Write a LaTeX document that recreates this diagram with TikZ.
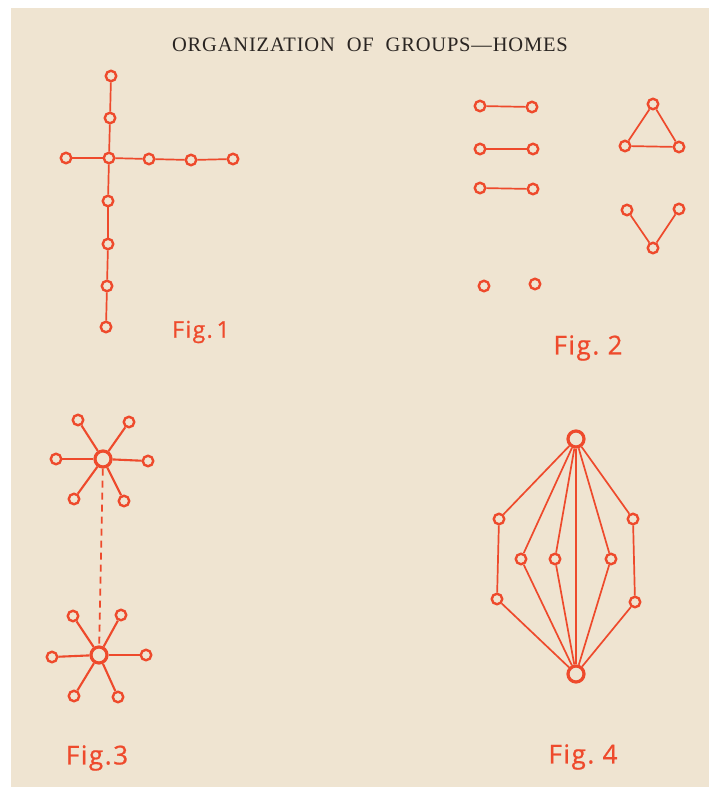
\documentclass[tikz,border=0pt]{standalone}
\usepackage{fontspec}
\setmainfont{Liberation Serif}
\newfontfamily\handfont[LetterSpace=6,FakeBold=0.8]{Open Sans}
\newfontfamily\titlefont[LetterSpace=4]{Liberation Serif}
\definecolor{paper}{HTML}{EFE4D1}
\definecolor{ink}{HTML}{EE4A2C}
\definecolor{titleink}{HTML}{2A2522}
\begin{document}
\begin{tikzpicture}[x=1pt,y=-1pt,
  dot/.style={circle,draw=ink,line width=2.4pt,inner sep=0pt,minimum size=10.5pt,fill=paper},
  hub/.style={circle,draw=ink,line width=3.2pt,inner sep=0pt,minimum size=16pt,fill=paper},
  link/.style={draw=ink,line width=1.7pt},
  dashlink/.style={draw=ink,line width=1.8pt,dash pattern=on 7pt off 5pt},
  figlabel/.style={text=ink,font=\handfont\fontsize{26}{26}\selectfont,inner sep=0pt}]
\useasboundingbox (0,0) rectangle (709,787);
\fill[white] (0,0) rectangle (709,787);
\fill[paper] (11,8) rectangle (709,787);

% title
\node[text=titleink,font=\titlefont\fontsize{20.5}{20.5}\selectfont,inner sep=0pt] (title) at (370,45)
  {ORGANIZATION\ \ OF\ \ GROUPS—HOMES};

% ---------- Fig. 1 ----------
\node[dot] (a1) at (111,76) {};
\node[dot] (a2) at (110,118) {};
\node[dot] (a3) at (109,158) {};
\node[dot] (a4) at (108,201) {};
\node[dot] (a5) at (108,244) {};
\node[dot] (a6) at (107,286) {};
\node[dot] (a7) at (106,327) {};
\node[dot] (h1) at (66,158) {};
\node[dot] (h2) at (149,159) {};
\node[dot] (h3) at (191,160) {};
\node[dot] (h4) at (233,159) {};
\draw[link] (a1)--(a2); \draw[link] (a2)--(a3); \draw[link] (a3)--(a4);
\draw[link] (a4)--(a5); \draw[link] (a5)--(a6); \draw[link] (a6)--(a7);
\draw[link] (h1)--(a3); \draw[link] (a3)--(h2); \draw[link] (h2)--(h3); \draw[link] (h3)--(h4);
\node[figlabel,font=\handfont\fontsize{23}{23}\selectfont] (f1) at (201,332) {Fig.\,1};

% ---------- Fig. 2 ----------
\node[dot] (p1) at (480,106) {};
\node[dot] (q1) at (532,107) {};
\node[dot] (p2) at (480,149) {};
\node[dot] (q2) at (533,149) {};
\node[dot] (p3) at (480,188) {};
\node[dot] (q3) at (533,189) {};
\node[dot] (p4) at (484,286) {};
\node[dot] (q4) at (535,284) {};
\draw[link] (p1)--(q1); \draw[link] (p2)--(q2); \draw[link] (p3)--(q3);
\node[dot] (t1) at (653,104) {};
\node[dot] (t2) at (625,146) {};
\node[dot] (t3) at (679,147) {};
\draw[link] (t1)--(t2); \draw[link] (t2)--(t3); \draw[link] (t3)--(t1);
\node[dot] (v1) at (627,210) {};
\node[dot] (v2) at (679,209) {};
\node[dot] (v3) at (653,248) {};
\draw[link] (v1)--(v3); \draw[link] (v3)--(v2);
\node[figlabel] (f2) at (588,348) {Fig.\ 2};

% ---------- Fig. 3 ----------
\node[hub] (s) at (103,459) {};
\node[dot] (s1) at (78,420) {};
\node[dot] (s2) at (129,422) {};
\node[dot] (s3) at (56,459) {};
\node[dot] (s4) at (148,461) {};
\node[dot] (s5) at (74,499) {};
\node[dot] (s6) at (124,501) {};
\foreach \k in {1,...,6} {\draw[link,line width=2.1pt] (s)--(s\k);}
\node[hub] (r) at (99,655) {};
\node[dot] (r1) at (73,616) {};
\node[dot] (r2) at (121,615) {};
\node[dot] (r3) at (52,657) {};
\node[dot] (r4) at (146,655) {};
\node[dot] (r5) at (74,696) {};
\node[dot] (r6) at (118,697) {};
\foreach \k in {1,...,6} {\draw[link,line width=2.1pt] (r)--(r\k);}
\draw[dashlink] (s)--(r);
\node[figlabel] (f3) at (97,758) {Fig.3};

% ---------- Fig. 4 ----------
\node[hub] (top) at (576,439) {};
\node[hub] (bot) at (576,674) {};
\node[dot] (l1) at (499,519) {};
\node[dot] (l2) at (497,599) {};
\node[dot] (m1) at (521,559) {};
\node[dot] (m2) at (555,559) {};
\node[dot] (m3) at (611,559) {};
\node[dot] (k1) at (633,519) {};
\node[dot] (k2) at (635,602) {};
\draw[link] (top)--(l1); \draw[link] (l1)--(l2); \draw[link] (l2)--(bot);
\draw[link] (top)--(m1); \draw[link] (m1)--(bot);
\draw[link] (top)--(m2); \draw[link] (m2)--(bot);
\draw[link] (top)--(bot);
\draw[link] (top)--(m3); \draw[link] (m3)--(bot);
\draw[link] (top)--(k1); \draw[link] (k1)--(k2); \draw[link] (k2)--(bot);
\node[figlabel] (f4) at (583,757) {Fig.\ 4};
\end{tikzpicture}
\end{document}
